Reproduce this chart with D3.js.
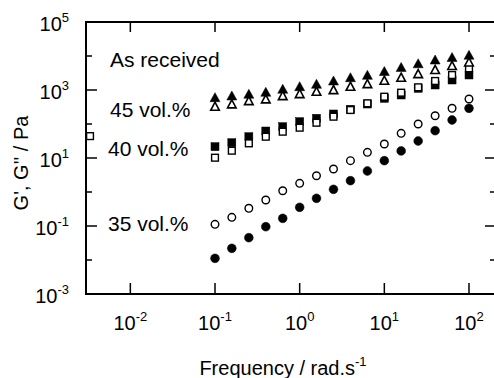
<!DOCTYPE html>
<html>
<head>
<meta charset="utf-8">
<script src="https://cdn.jsdelivr.net/npm/d3@7"></script>
<style>
  body { margin: 0; background: #fff; }
  text { font-family: "Liberation Sans", Arial, sans-serif; fill: #000; }
</style>
</head>
<body>
<svg id="chart" width="494" height="378"></svg>
<script>
// frequencies (rad/s)
var freq = [0.1, 0.158, 0.251, 0.398, 0.631, 1, 1.58, 2.51, 3.98, 6.31, 10, 15.8, 25.1, 39.8, 63.1, 100];

// 45 vol.% : G' (filled triangles), G'' (open triangles)
var gp45 = [594, 667, 748, 856, 1050, 1250, 1470, 1840, 2300, 2700, 3500, 4600, 5900, 7600, 9000, 10500];
var gpp45 = [323, 380, 474, 532, 667, 763, 891, 1000, 1250, 1500, 1880, 2300, 2950, 3900, 5100, 6500];

// 40 vol.% : G' (filled squares), G'' (open squares)
var gp40 = [21.5, 28.2, 42.3, 62.2, 83.3, 117, 147, 197, 271, 387, 570, 713, 1122, 1403, 1968, 2762];
var gpp40 = [10.2, 16.4, 27, 42.3, 59.4, 77.9, 109, 164, 258, 406, 635, 833, 1200, 1840, 2762, 4350];

// 35 vol.% : G' (filled circles), G'' (open circles)
var gp35 = [0.0112, 0.0221, 0.0453, 0.0953, 0.168, 0.355, 0.653, 1.2, 2.15, 4.15, 8.34, 16.1, 31.6, 63.6, 131, 290];
var gpp35 = [0.112, 0.18, 0.332, 0.582, 1.09, 1.8, 3.01, 4.75, 8.34, 14.7, 25.8, 53.2, 100, 175, 290, 543];

// lone open square at the left edge
var strayFreq = [0.00334];
var strayG = [44];

var xTicks = [1e-2, 1e-1, 1e0, 1e1, 1e2];
var yTicks = [1e-3, 1e-2, 1e-1, 1e0, 1e1, 1e2, 1e3, 1e4, 1e5];
var yLabelled = [1e-3, 1e-1, 1e1, 1e3, 1e5];

var labels = [
  { text: "As received", x: 110, y: 67 },
  { text: "45 vol.%", x: 110, y: 117 },
  { text: "40 vol.%", x: 108, y: 156 },
  { text: "35 vol.%", x: 108, y: 231 }
];

var svg = d3.select("#chart");
// plot box (right edge sits just outside the window)
var boxL = 86, boxR = 496, boxT = 22, boxB = 294;

var x = d3.scaleLog().domain([1e-1, 1e2]).range([215, 469]);
var y = d3.scaleLog().domain([1e-3, 1e5]).range([boxB, boxT]);

// frame
svg.append("rect")
  .attr("x", boxL).attr("y", boxT)
  .attr("width", boxR - boxL).attr("height", boxB - boxT)
  .attr("fill", "none").attr("stroke", "#000").attr("stroke-width", 2);

// x ticks (inward, top and bottom)
xTicks.forEach(function(t) {
  svg.append("line").attr("x1", x(t)).attr("x2", x(t))
    .attr("y1", boxB).attr("y2", boxB - 11)
    .attr("stroke", "#000").attr("stroke-width", 1.5);
  svg.append("line").attr("x1", x(t)).attr("x2", x(t))
    .attr("y1", boxT).attr("y2", boxT + 10)
    .attr("stroke", "#000").attr("stroke-width", 1.5);
  var lab = svg.append("text")
    .attr("x", x(t)).attr("y", 330)
    .attr("text-anchor", "middle")
    .attr("font-size", 20);
  lab.append("tspan").text("10");
  lab.append("tspan").attr("dy", -9).attr("font-size", 13).text(Math.round(Math.log10(t)));
});

// y ticks (inward, left and right)
yTicks.forEach(function(t) {
  var major = yLabelled.indexOf(t) >= 0;
  var len = major ? 11 : 6;
  svg.append("line").attr("x1", boxL).attr("x2", boxL + len)
    .attr("y1", y(t)).attr("y2", y(t))
    .attr("stroke", "#000").attr("stroke-width", 1.5);
  svg.append("line").attr("x1", boxR).attr("x2", boxR - len)
    .attr("y1", y(t)).attr("y2", y(t))
    .attr("stroke", "#000").attr("stroke-width", 1.5);
  if (major) {
    var lab = svg.append("text")
      .attr("x", 69).attr("y", y(t) + 9)
      .attr("text-anchor", "end")
      .attr("font-size", 20);
    lab.append("tspan").text("10");
    lab.append("tspan").attr("dy", -9).attr("font-size", 13).text(Math.round(Math.log10(t)));
  }
});

// axis titles
var xt = svg.append("text")
  .attr("x", 283).attr("y", 375)
  .attr("text-anchor", "middle")
  .attr("font-size", 20);
xt.append("tspan").text("Frequency / rad.s");
xt.append("tspan").attr("dy", -9).attr("font-size", 13).text("-1");

svg.append("text")
  .attr("transform", "translate(28,163) rotate(-90)")
  .attr("text-anchor", "middle")
  .attr("font-size", 20)
  .text("G', G'' / Pa");

labels.forEach(function(l) {
  svg.append("text").attr("x", l.x).attr("y", l.y)
    .attr("font-size", 21).text(l.text);
});

// markers
function pairs(xs, ys) {
  return xs.map(function(f, i) { return [f, ys[i]]; });
}
var plot = svg.append("g");

function triangles(data, filled) {
  var w = filled ? 5 : 4.3, h1 = filled ? 5 : 4.5, h2 = filled ? 4 : 3.6;
  plot.selectAll(null).data(data).enter().append("path")
    .attr("d", function(d) {
      var cx = x(d[0]), cy = y(d[1]);
      return "M" + cx + "," + (cy - h1) + "L" + (cx + w) + "," + (cy + h2) + "L" + (cx - w) + "," + (cy + h2) + "Z";
    })
    .attr("fill", filled ? "#000" : "#fff")
    .attr("stroke", "#000").attr("stroke-width", filled ? 0.5 : 1.6)
    .attr("stroke-linejoin", "miter");
}
function squares(data, filled) {
  var s = filled ? 8 : 6.8;
  plot.selectAll(null).data(data).enter().append("rect")
    .attr("x", function(d) { return x(d[0]) - s / 2; })
    .attr("y", function(d) { return y(d[1]) - s / 2; })
    .attr("width", s).attr("height", s)
    .attr("fill", filled ? "#000" : "#fff")
    .attr("stroke", "#000").attr("stroke-width", filled ? 0.5 : 1.4);
}
function circles(data, filled) {
  plot.selectAll(null).data(data).enter().append("circle")
    .attr("cx", function(d) { return x(d[0]); })
    .attr("cy", function(d) { return y(d[1]); })
    .attr("r", filled ? 4.4 : 3.8)
    .attr("fill", filled ? "#000" : "#fff")
    .attr("stroke", "#000").attr("stroke-width", filled ? 0.5 : 1.4);
}

circles(pairs(freq, gpp35), false);
circles(pairs(freq, gp35), true);
squares(pairs(freq, gp40), true);
squares(pairs(freq, gpp40), false);
squares(pairs(strayFreq, strayG), false);
triangles(pairs(freq, gp45), true);
triangles(pairs(freq, gpp45), false);
</script>
</body>
</html>
